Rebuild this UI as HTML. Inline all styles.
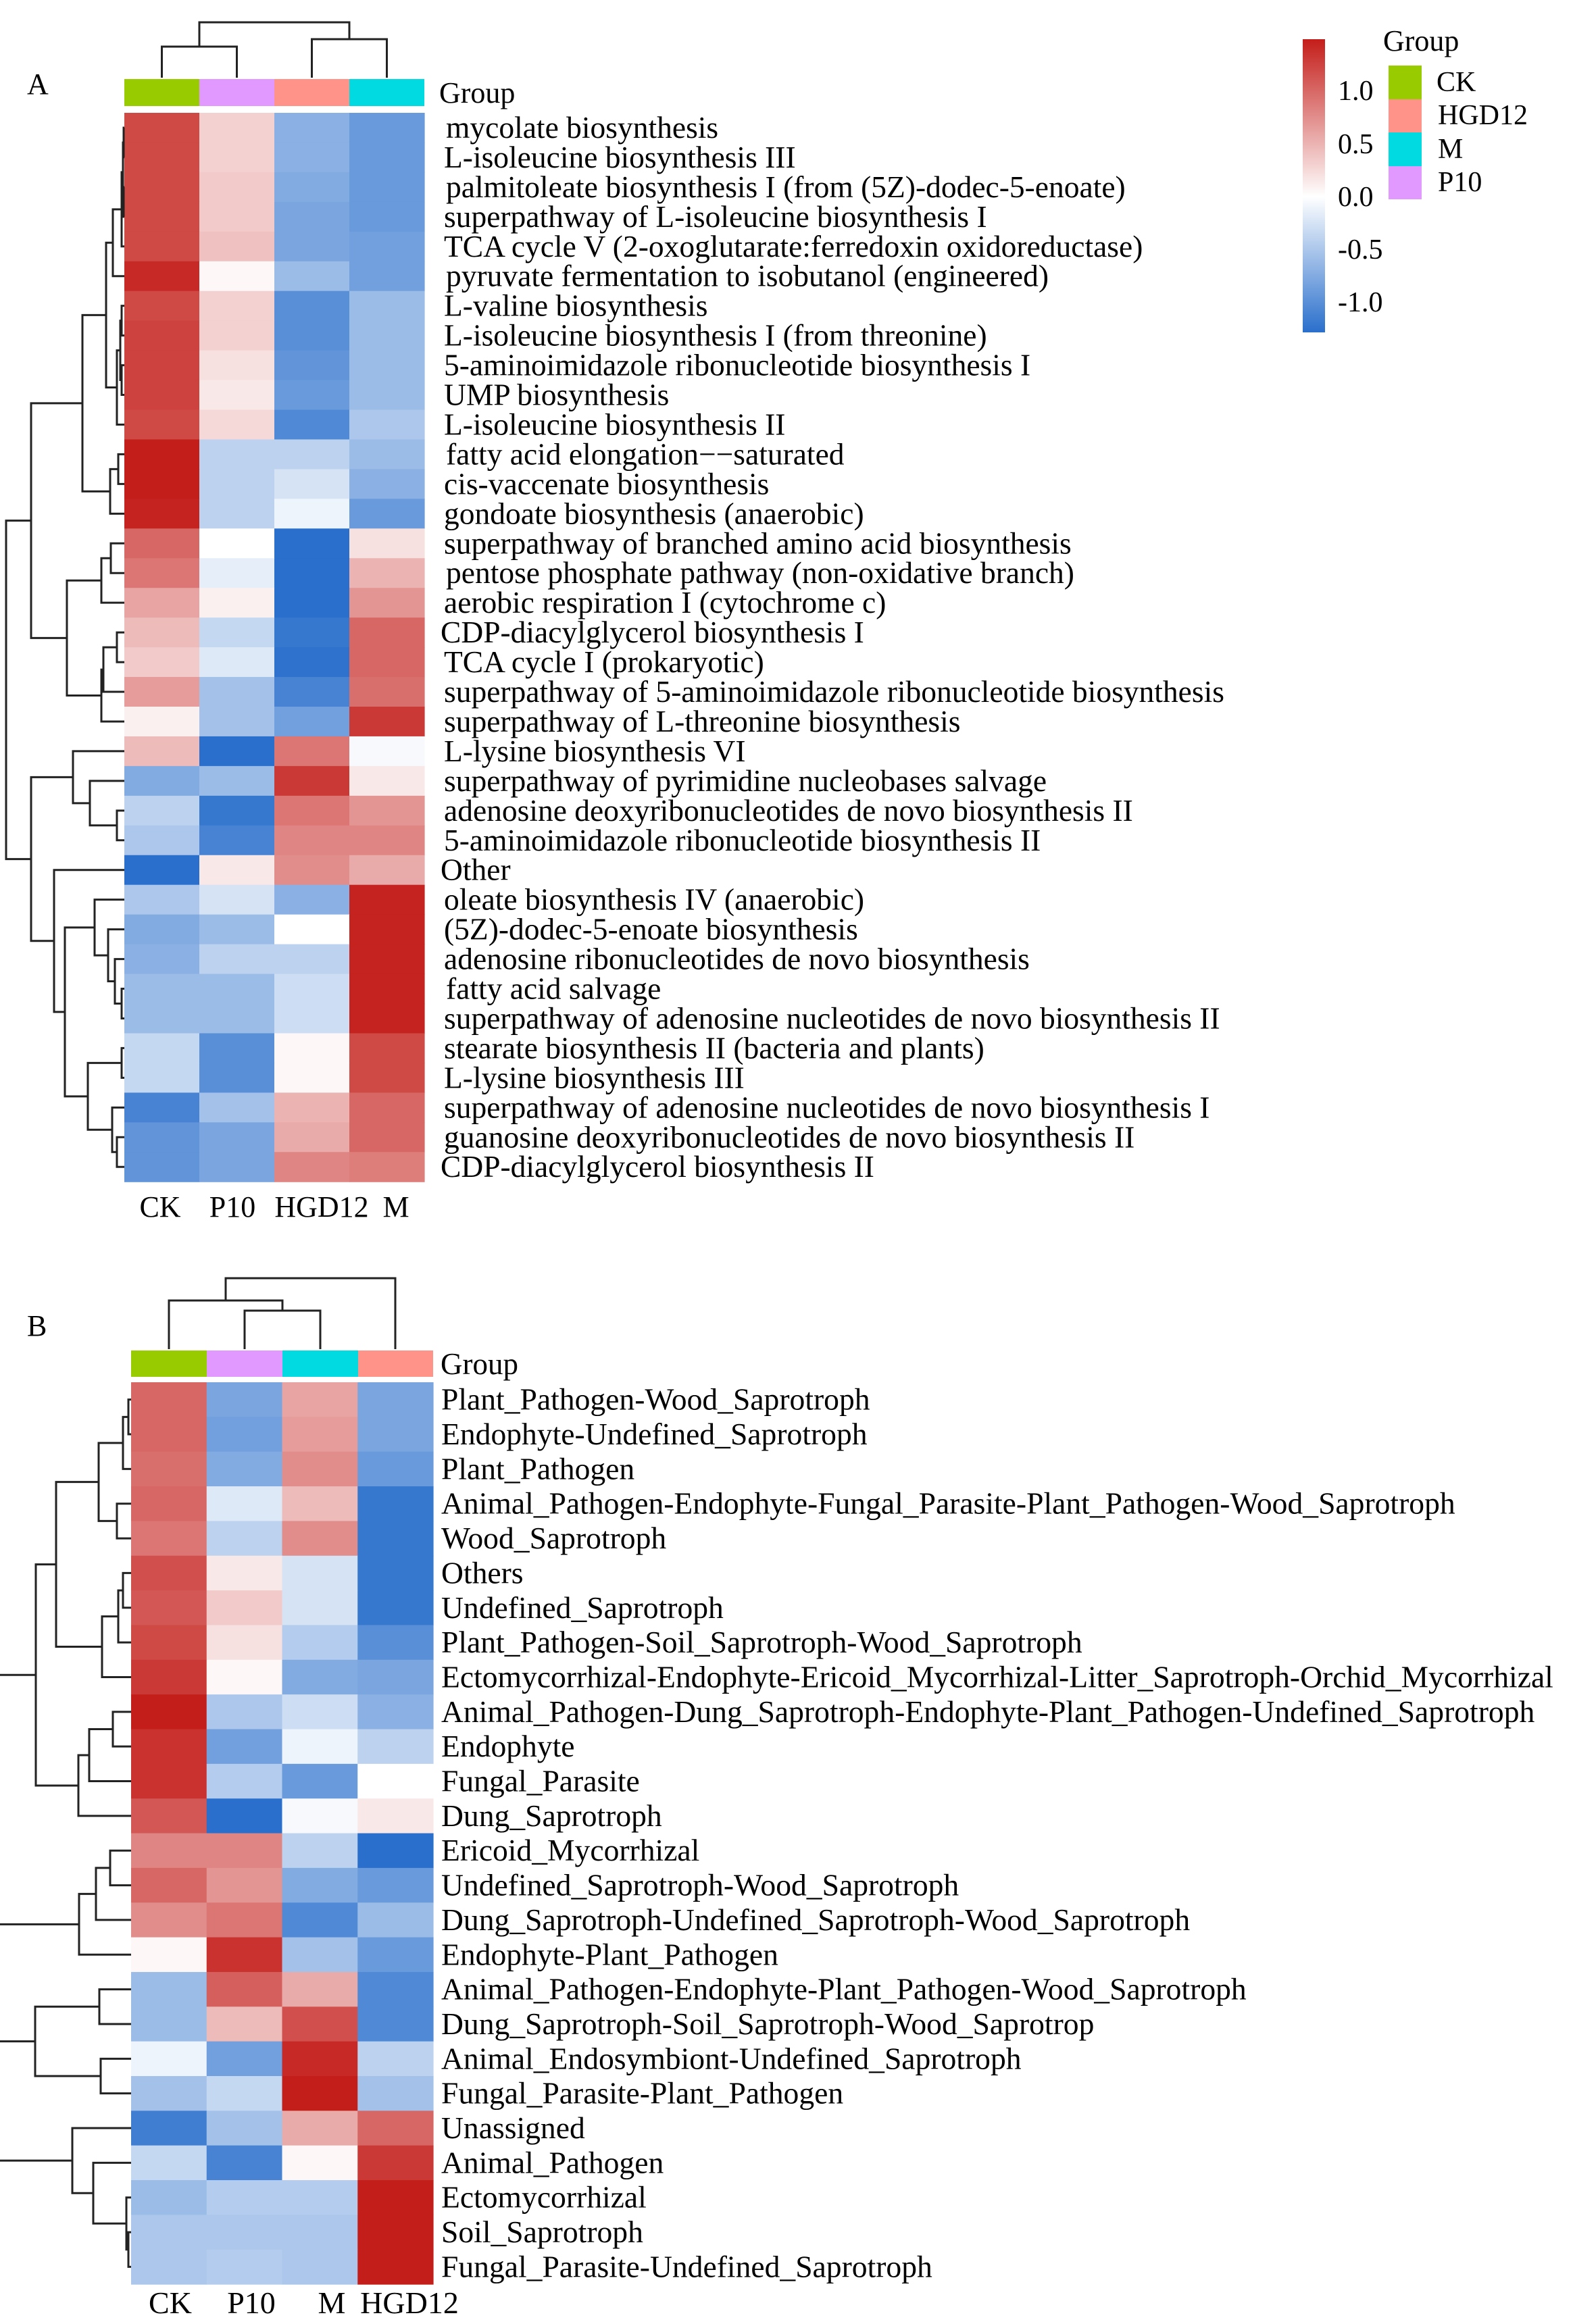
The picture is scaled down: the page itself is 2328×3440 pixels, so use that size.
<!DOCTYPE html>
<html><head><meta charset="utf-8">
<style>
html,body{margin:0;padding:0;background:#fff;}
svg{display:block;font-family:"Liberation Serif","DejaVu Serif",serif;}
text{fill:#000;}
</style></head>
<body>
<svg id="s" xmlns="http://www.w3.org/2000/svg" width="2328" height="3440" viewBox="0 0 2328 3440">
<defs>
<linearGradient id="cb" x1="0" y1="0" x2="0" y2="1">
<stop offset="0" stop-color="#c41e1a"/>
<stop offset="0.537" stop-color="#ffffff"/>
<stop offset="1" stop-color="#2a6fcc"/>
</linearGradient>
</defs>
<g id="cells"></g>
<g id="dend" stroke="#222" stroke-width="3" fill="none"></g>

<text x="40" y="139" font-size="44">A</text>
<text x="40" y="1977" font-size="44">B</text>

<rect x="184" y="117" width="111" height="40" fill="#99cc00"/>
<rect x="295" y="117" width="111" height="40" fill="#e199ff"/>
<rect x="406" y="117" width="111" height="40" fill="#ff9289"/>
<rect x="517" y="117" width="111" height="40" fill="#00dae0"/>
<text x="650" y="152" font-size="44">Group</text>

<rect x="194" y="1999" width="112" height="39" fill="#99cc00"/>
<rect x="306" y="1999" width="112" height="39" fill="#e199ff"/>
<rect x="418" y="1999" width="112" height="39" fill="#00dae0"/>
<rect x="530" y="1999" width="111" height="39" fill="#ff9289"/>
<text x="652" y="2034" font-size="45">Group</text>

<rect x="1928" y="58" width="33" height="434" fill="url(#cb)"/>
<g font-size="42">
<text x="1980" y="148">1.0</text>
<text x="1980" y="227">0.5</text>
<text x="1980" y="305">0.0</text>
<text x="1980" y="383">-0.5</text>
<text x="1980" y="461">-1.0</text>
</g>
<text x="2047" y="75" font-size="44">Group</text>
<rect x="2055" y="97" width="49" height="50" fill="#99cc00"/>
<rect x="2055" y="147" width="49" height="49" fill="#ff9289"/>
<rect x="2055" y="196" width="49" height="50" fill="#00dae0"/>
<rect x="2055" y="246" width="49" height="49" fill="#e199ff"/>
<g font-size="42">
<text x="2126" y="135">CK</text>
<text x="2128" y="184">HGD12</text>
<text x="2128" y="234">M</text>
<text x="2128" y="283">P10</text>
</g>

<g font-size="45.5" id="labA">
<text x="660">mycolate biosynthesis</text>
<text x="657">L-isoleucine biosynthesis III</text>
<text x="660">palmitoleate biosynthesis I (from (5Z)-dodec-5-enoate)</text>
<text x="657">superpathway of L-isoleucine biosynthesis I</text>
<text x="657">TCA cycle V (2-oxoglutarate:ferredoxin oxidoreductase)</text>
<text x="660">pyruvate fermentation to isobutanol (engineered)</text>
<text x="657">L-valine biosynthesis</text>
<text x="657">L-isoleucine biosynthesis I (from threonine)</text>
<text x="657">5-aminoimidazole ribonucleotide biosynthesis I</text>
<text x="657">UMP biosynthesis</text>
<text x="657">L-isoleucine biosynthesis II</text>
<text x="660">fatty acid elongation−−saturated</text>
<text x="657">cis-vaccenate biosynthesis</text>
<text x="657">gondoate biosynthesis (anaerobic)</text>
<text x="657">superpathway of branched amino acid biosynthesis</text>
<text x="660">pentose phosphate pathway (non-oxidative branch)</text>
<text x="657">aerobic respiration I (cytochrome c)</text>
<text x="652">CDP-diacylglycerol biosynthesis I</text>
<text x="657">TCA cycle I (prokaryotic)</text>
<text x="657">superpathway of 5-aminoimidazole ribonucleotide biosynthesis</text>
<text x="657">superpathway of L-threonine biosynthesis</text>
<text x="657">L-lysine biosynthesis VI</text>
<text x="657">superpathway of pyrimidine nucleobases salvage</text>
<text x="657">adenosine deoxyribonucleotides de novo biosynthesis II</text>
<text x="657">5-aminoimidazole ribonucleotide biosynthesis II</text>
<text x="652">Other</text>
<text x="657">oleate biosynthesis IV (anaerobic)</text>
<text x="657">(5Z)-dodec-5-enoate biosynthesis</text>
<text x="657">adenosine ribonucleotides de novo biosynthesis</text>
<text x="660">fatty acid salvage</text>
<text x="657">superpathway of adenosine nucleotides de novo biosynthesis II</text>
<text x="657">stearate biosynthesis II (bacteria and plants)</text>
<text x="657">L-lysine biosynthesis III</text>
<text x="657">superpathway of adenosine nucleotides de novo biosynthesis I</text>
<text x="657">guanosine deoxyribonucleotides de novo biosynthesis II</text>
<text x="652">CDP-diacylglycerol biosynthesis II</text>
</g>
<g font-size="44" text-anchor="middle">
<text x="237" y="1801">CK</text>
<text x="344" y="1801">P10</text>
<text x="476" y="1801">HGD12</text>
<text x="586" y="1801">M</text>
</g>

<g font-size="45.6" id="labB">
<text x="653">Plant_Pathogen-Wood_Saprotroph</text>
<text x="653">Endophyte-Undefined_Saprotroph</text>
<text x="653">Plant_Pathogen</text>
<text x="653">Animal_Pathogen-Endophyte-Fungal_Parasite-Plant_Pathogen-Wood_Saprotroph</text>
<text x="653">Wood_Saprotroph</text>
<text x="653">Others</text>
<text x="653">Undefined_Saprotroph</text>
<text x="653">Plant_Pathogen-Soil_Saprotroph-Wood_Saprotroph</text>
<text x="653">Ectomycorrhizal-Endophyte-Ericoid_Mycorrhizal-Litter_Saprotroph-Orchid_Mycorrhizal</text>
<text x="653">Animal_Pathogen-Dung_Saprotroph-Endophyte-Plant_Pathogen-Undefined_Saprotroph</text>
<text x="653">Endophyte</text>
<text x="653">Fungal_Parasite</text>
<text x="653">Dung_Saprotroph</text>
<text x="653">Ericoid_Mycorrhizal</text>
<text x="653">Undefined_Saprotroph-Wood_Saprotroph</text>
<text x="653">Dung_Saprotroph-Undefined_Saprotroph-Wood_Saprotroph</text>
<text x="653">Endophyte-Plant_Pathogen</text>
<text x="653">Animal_Pathogen-Endophyte-Plant_Pathogen-Wood_Saprotroph</text>
<text x="653">Dung_Saprotroph-Soil_Saprotroph-Wood_Saprotrop</text>
<text x="653">Animal_Endosymbiont-Undefined_Saprotroph</text>
<text x="653">Fungal_Parasite-Plant_Pathogen</text>
<text x="653">Unassigned</text>
<text x="653">Animal_Pathogen</text>
<text x="653">Ectomycorrhizal</text>
<text x="653">Soil_Saprotroph</text>
<text x="653">Fungal_Parasite-Undefined_Saprotroph</text>
</g>
<g font-size="46" text-anchor="middle">
<text x="252" y="3424">CK</text>
<text x="372" y="3424">P10</text>
<text x="491" y="3424">M</text>
<text x="606" y="3424">HGD12</text>
</g>
</svg>
<script>
(function(){
var NS="http://www.w3.org/2000/svg";
function col(v){
  var r,g,b,t;
  if(v>=0){t=Math.min(v/1.48,1);r=255+(196-255)*t;g=255+(30-255)*t;b=255+(26-255)*t;}
  else{t=Math.min(-v/1.28,1);r=255+(42-255)*t;g=255+(111-255)*t;b=255+(204-255)*t;}
  return "rgb("+Math.round(r)+","+Math.round(g)+","+Math.round(b)+")";
}
var A=[[1.2,.3,-.7,-.9],[1.2,.3,-.7,-.9],[1.2,.35,-.75,-.9],[1.2,.35,-.8,-.9],[1.2,.4,-.8,-.85],
[1.4,.05,-.6,-.85],[1.2,.3,-1,-.6],[1.25,.3,-1,-.6],[1.25,.2,-.95,-.6],[1.25,.15,-.9,-.6],[1.2,.25,-1.05,-.5],
[1.5,-.4,-.4,-.6],[1.5,-.4,-.25,-.7],[1.45,-.4,-.1,-.9],[1,0,-1.3,.2],[.9,-.15,-1.3,.5],[.6,.1,-1.5,.7],
[.45,-.35,-1.2,1],[.35,-.2,-1.25,1],[.65,-.55,-1.1,.95],[.1,-.55,-.85,1.3],[.45,-1.3,.9,-.05],
[-.75,-.6,1.3,.15],[-.4,-1.2,.9,.7],[-.5,-1.1,.8,.8],[-1.45,.15,.75,.55],[-.5,-.25,-.7,1.45],
[-.75,-.6,0,1.45],[-.7,-.4,-.4,1.45],[-.6,-.6,-.3,1.45],[-.6,-.6,-.3,1.45],[-.35,-1,.05,1.2],
[-.35,-1,.05,1.2],[-1.1,-.55,.5,1],[-.95,-.8,.55,1],[-.95,-.8,.8,.85]];
var B=[[1,-.8,.6,-.8],[1,-.85,.65,-.8],[.95,-.75,.75,-.9],[1,-.2,.45,-1.2],[.9,-.4,.75,-1.2],
[1.15,.15,-.25,-1.2],[1.1,.35,-.25,-1.2],[1.2,.2,-.45,-1],[1.3,.05,-.75,-.8],[1.5,-.5,-.3,-.7],
[1.35,-.85,-.1,-.4],[1.35,-.45,-.9,0],[1.1,-1.3,-.05,.15],[.8,.8,-.4,-1.3],[1,.7,-.75,-.9],
[.75,.9,-1.05,-.6],[.05,1.35,-.55,-.9],[-.6,1.05,.55,-1.05],[-.6,.45,1.15,-1.05],[-.1,-.85,1.4,-.4],
[-.55,-.35,1.5,-.55],[-1.15,-.55,.55,1],[-.35,-1.1,.05,1.3],[-.6,-.45,-.45,1.5],[-.5,-.5,-.5,1.5],[-.5,-.45,-.5,1.5]];
var cg=document.getElementById("cells"),dg=document.getElementById("dend");
function rect(x,y,w,h,f){var r=document.createElementNS(NS,"rect");r.setAttribute("x",x);r.setAttribute("y",y);r.setAttribute("width",w);r.setAttribute("height",h);r.setAttribute("fill",f);cg.appendChild(r);}
var ax=184,ay=167,aw=111,ah=43.95;
A.forEach(function(r,i){r.forEach(function(v,j){rect(ax+j*aw,ay+i*ah,aw+0.6,ah+0.6,col(v));});});
var bx=194,by=2046,bw=111.75,bh=51.35;
B.forEach(function(r,i){r.forEach(function(v,j){rect(bx+j*bw,by+i*bh,bw+0.6,bh+0.6,col(v));});});
var la=document.getElementById("labA").children;
for(var i=0;i<la.length;i++)la[i].setAttribute("y",(ay+(i+0.5)*ah+15).toFixed(1));
var lb=document.getElementById("labB").children;
for(var i=0;i<lb.length;i++)lb[i].setAttribute("y",(by+(i+0.5)*bh+15).toFixed(1));
var d="";
function n(x,a,b){return {x:x,a:a,b:b};}
function draw(t,leafX,y0,h){
  if(typeof t==="number") return {x:leafX,y:y0+(t+0.5)*h};
  var p=draw(t.a,leafX,y0,h),q=draw(t.b,leafX,y0,h);
  d+="M"+p.x+" "+p.y+"H"+t.x+"V"+q.y+"H"+q.x;
  return {x:t.x,y:(p.y+q.y)/2};
}
var t16=n(167,n(180,n(182,n(183,0,1),n(183,2,3)),4),5);
var t711=n(173,n(178,n(180,6,7),n(180,8,9)),10);
var t111=n(157,t16,t711);
var t1214=n(163,n(175,11,12),13);
var ta=n(122,t111,t1214);
var t1517=n(150,n(164,14,15),16);
var t1821=n(150,n(153,n(173,17,18),19),20);
var tb=n(99,t1517,t1821);
var c1=n(46,ta,tb);
var t2225=n(108,21,n(133,22,n(173,23,24)));
var t2731=n(140,26,n(160,27,n(170,28,n(180,29,30))));
var t3236=n(130,n(180,31,32),n(166,33,n(173,34,35)));
var t2636=n(80,25,n(96,t2731,t3236));
var c2=n(46,t2225,t2636);
draw(n(9,c1,c2),184,ay,ah);
var t15=n(146,n(182,n(190,0,1),2),n(173,3,4));
var t69=n(151,n(175,n(182,5,6),7),8);
var cA=n(53,n(83,t15,t69),n(116,n(132,n(167,9,10),11),12));
var cB=n(117,n(142,n(163,13,14),15),16);
var cC=n(52,n(147,17,18),n(149,19,20));
var cD=n(107,21,n(138,22,n(187,23,n(190,24,25))));
[cA,cB,cC,cD].forEach(function(c){var r=draw(c,194,by,bh);d+="M"+r.x+" "+r.y+"H0";});
d+="M239.5 115V69H350.5V115M461.5 115V58H572.5V115M295 69V33H517V58";
d+="M362 1997V1940H474V1997M250 1997V1925H418V1940M585 1997V1892H334V1925";
var p=document.createElementNS(NS,"path");p.setAttribute("d",d);dg.appendChild(p);
})();
</script>
</body></html>
